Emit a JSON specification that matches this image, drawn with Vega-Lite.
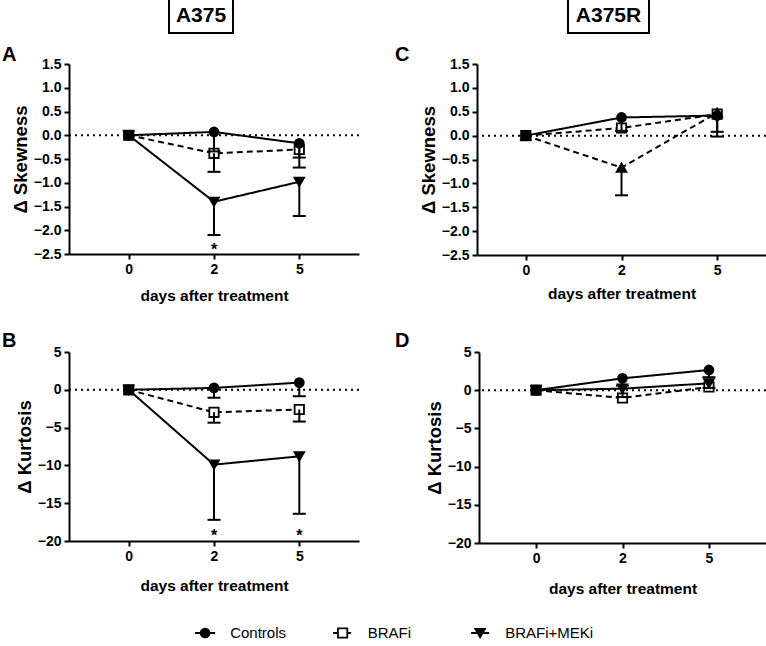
{
  "$schema": "https://vega.github.io/schema/vega-lite/v6.json",
  "background": "white",
  "padding": {"left": 2, "top": -3, "right": 0, "bottom": 0},
  "autosize": {"type": "pad"},
  "spacing": 0,
  "resolve": {"scale": {"shape": "independent", "strokeDash": "independent", "fill": "independent", "size": "independent"}},
  "datasets": {
    "main": [
      {"panel": "A", "series": "BRAFi", "day": "0", "value": 0},
      {"panel": "A", "series": "BRAFi", "day": "2", "value": -0.38, "lo": -0.77},
      {"panel": "A", "series": "BRAFi", "day": "5", "value": -0.3, "lo": -0.68},
      {"panel": "A", "series": "Controls", "day": "0", "value": 0},
      {"panel": "A", "series": "Controls", "day": "2", "value": 0.07, "lo": -0.34},
      {"panel": "A", "series": "Controls", "day": "5", "value": -0.17, "lo": -0.47},
      {"panel": "A", "series": "BRAFi+MEKi", "day": "0", "value": 0},
      {"panel": "A", "series": "BRAFi+MEKi", "day": "2", "value": -1.4, "lo": -2.1},
      {"panel": "A", "series": "BRAFi+MEKi", "day": "5", "value": -0.98, "lo": -1.7},
      {"panel": "B", "series": "BRAFi", "day": "0", "value": 0},
      {"panel": "B", "series": "BRAFi", "day": "2", "value": -2.98, "lo": -4.35},
      {"panel": "B", "series": "BRAFi", "day": "5", "value": -2.6, "lo": -4.2},
      {"panel": "B", "series": "Controls", "day": "0", "value": 0},
      {"panel": "B", "series": "Controls", "day": "2", "value": 0.25, "lo": -1.05},
      {"panel": "B", "series": "Controls", "day": "5", "value": 0.95, "lo": -0.85},
      {"panel": "B", "series": "BRAFi+MEKi", "day": "0", "value": 0},
      {"panel": "B", "series": "BRAFi+MEKi", "day": "2", "value": -9.9, "lo": -17.2},
      {"panel": "B", "series": "BRAFi+MEKi", "day": "5", "value": -8.8, "lo": -16.4},
      {"panel": "C", "series": "BRAFi", "day": "0", "value": 0},
      {"panel": "C", "series": "BRAFi", "day": "2", "value": 0.16},
      {"panel": "C", "series": "BRAFi", "day": "5", "value": 0.45, "lo": -0.02},
      {"panel": "C", "series": "Controls", "day": "0", "value": 0},
      {"panel": "C", "series": "Controls", "day": "2", "value": 0.38, "lo": 0.1},
      {"panel": "C", "series": "Controls", "day": "5", "value": 0.42, "lo": 0.08},
      {"panel": "C", "series": "BRAFi+MEKi", "day": "0", "value": 0},
      {"panel": "C", "series": "BRAFi+MEKi", "day": "2", "value": -0.67, "lo": -1.25},
      {"panel": "C", "series": "BRAFi+MEKi", "day": "5", "value": 0.48},
      {"panel": "D", "series": "BRAFi", "day": "0", "value": 0},
      {"panel": "D", "series": "BRAFi", "day": "2", "value": -1.02},
      {"panel": "D", "series": "BRAFi", "day": "5", "value": 0.42},
      {"panel": "D", "series": "Controls", "day": "0", "value": 0},
      {"panel": "D", "series": "Controls", "day": "2", "value": 1.55, "lo": 0.6},
      {"panel": "D", "series": "Controls", "day": "5", "value": 2.65, "lo": 1.7},
      {"panel": "D", "series": "BRAFi+MEKi", "day": "0", "value": 0},
      {"panel": "D", "series": "BRAFi+MEKi", "day": "2", "value": 0.2, "lo": -0.9},
      {"panel": "D", "series": "BRAFi+MEKi", "day": "5", "value": 0.9, "lo": 0.3}
    ],
    "stars": [
      {"panel": "A", "day": "2", "value": -2.33},
      {"panel": "B", "day": "2", "value": -18.85},
      {"panel": "B", "day": "5", "value": -18.85}
    ],
    "legend": [
      {"series": "Controls"},
      {"series": "BRAFi"},
      {"series": "BRAFi+MEKi"}
    ]
  },
  "vconcat": [
    {
      "spacing": 0,
      "hconcat": [
        {"width": 99, "height": 37, "data": {"values": [{"label": ""}]}, "mark": {"type": "text", "fontSize": 1}, "encoding": {"text": {"field": "label"}}},
        {"width": 64, "height": 35, "view": {"stroke": "black", "strokeWidth": 2}, "data": {"values": [{"label": "A375"}]}, "mark": {"type": "text", "fontSize": 21, "fontWeight": "bold", "baseline": "middle", "align": "center"}, "encoding": {"text": {"field": "label"}}},
        {"width": 333, "height": 37, "data": {"values": [{"label": ""}]}, "mark": {"type": "text", "fontSize": 1}, "encoding": {"text": {"field": "label"}}},
        {"width": 81, "height": 35, "view": {"stroke": "black", "strokeWidth": 2}, "data": {"values": [{"label": "A375R"}]}, "mark": {"type": "text", "fontSize": 21, "fontWeight": "bold", "baseline": "middle", "align": "center"}, "encoding": {"text": {"field": "label"}}}
      ]
    },
    {"width": 10, "height": 9, "data": {"values": [{"label": ""}]}, "mark": {"type": "text", "fontSize": 1}, "encoding": {"text": {"field": "label"}}},
    {
      "spacing": 35,
      "resolve": {"scale": {"shape": "independent", "strokeDash": "independent", "fill": "independent", "size": "independent"}},
      "hconcat": [
        {
          "width": 290, "height": 190,
          "title": {"text": "A", "dx": -67, "dy": 11.5},
          "layer": [
            {"data": {"values": [{"value": 0}]}, "mark": {"type": "rule", "color": "black", "strokeWidth": 2, "strokeDash": [2, 4]},
             "encoding": {"y": {"field": "value", "type": "quantitative", "scale": {"domain": [-2.5, 1.5], "nice": false, "zero": false}, "axis": {"title": "Δ Skewness", "values": [-2.5, -2, -1.5, -1, -0.5, 0, 0.5, 1, 1.5], "format": ".1f"}}}},
            {"data": {"name": "main"}, "transform": [{"filter": "datum.panel === 'A'"}], "mark": {"type": "line", "color": "black", "strokeWidth": 2},
             "encoding": {
               "x": {"field": "day", "type": "ordinal", "scale": {"type": "point", "domain": ["0", "2", "5"], "padding": 0.7}, "axis": {"title": "days after treatment", "titlePadding": 12}},
               "y": {"field": "value", "type": "quantitative", "scale": {"domain": [-2.5, 1.5], "nice": false, "zero": false}, "axis": {"title": "Δ Skewness", "values": [-2.5, -2, -1.5, -1, -0.5, 0, 0.5, 1, 1.5], "format": ".1f"}},
               "detail": {"field": "series"},
               "strokeDash": {"field": "series", "type": "nominal", "scale": {"domain": ["Controls", "BRAFi", "BRAFi+MEKi"], "range": [[1, 0], [6, 4], [1, 0]]}, "legend": null}
             }},
            {"data": {"name": "main"}, "transform": [{"filter": "datum.panel === 'A'"}], "mark": {"type": "point", "opacity": 1, "stroke": "black", "strokeWidth": 1.8},
             "encoding": {
               "x": {"field": "day", "type": "ordinal", "scale": {"type": "point", "domain": ["0", "2", "5"], "padding": 0.7}, "axis": {"title": "days after treatment", "titlePadding": 12}},
               "y": {"field": "value", "type": "quantitative", "axis": {"title": "Δ Skewness", "values": [-2.5, -2, -1.5, -1, -0.5, 0, 0.5, 1, 1.5], "format": ".1f"}},
               "shape": {"field": "series", "type": "nominal", "scale": {"domain": ["Controls", "BRAFi", "BRAFi+MEKi"], "range": ["circle", "square", "triangle-down"]}, "legend": null},
               "fill": {"field": "series", "type": "nominal", "scale": {"domain": ["Controls", "BRAFi", "BRAFi+MEKi"], "range": ["black", "white", "black"]}, "legend": null},
               "size": {"field": "series", "type": "nominal", "scale": {"domain": ["Controls", "BRAFi", "BRAFi+MEKi"], "range": [80, 95, 110]}, "legend": null}
             }},
            {"data": {"name": "main"}, "transform": [{"filter": "datum.panel === 'A' && isValid(datum.lo)"}], "mark": {"type": "rule", "color": "black", "strokeWidth": 2},
             "encoding": {
               "x": {"field": "day", "type": "ordinal", "scale": {"type": "point", "domain": ["0", "2", "5"], "padding": 0.7}, "axis": {"title": "days after treatment", "titlePadding": 12}},
               "y": {"field": "value", "type": "quantitative", "axis": {"title": "Δ Skewness", "values": [-2.5, -2, -1.5, -1, -0.5, 0, 0.5, 1, 1.5], "format": ".1f"}},
               "y2": {"field": "lo"}
             }},
            {"data": {"name": "main"}, "transform": [{"filter": "datum.panel === 'A' && isValid(datum.lo)"}], "mark": {"type": "tick", "color": "black", "thickness": 2, "size": 13, "opacity": 1},
             "encoding": {
               "x": {"field": "day", "type": "ordinal", "scale": {"type": "point", "domain": ["0", "2", "5"], "padding": 0.7}, "axis": {"title": "days after treatment", "titlePadding": 12}},
               "y": {"field": "lo", "type": "quantitative", "axis": {"title": "Δ Skewness", "values": [-2.5, -2, -1.5, -1, -0.5, 0, 0.5, 1, 1.5], "format": ".1f"}}
             }},
            {"data": {"name": "stars"}, "transform": [{"filter": "datum.panel === 'A'"}], "mark": {"type": "text", "text": "*", "fontSize": 16, "fontWeight": "bold", "baseline": "middle", "dy": 4},
             "encoding": {
               "x": {"field": "day", "type": "ordinal", "scale": {"type": "point", "domain": ["0", "2", "5"], "padding": 0.7}, "axis": {"title": "days after treatment", "titlePadding": 12}},
               "y": {"field": "value", "type": "quantitative", "axis": {"title": "Δ Skewness", "values": [-2.5, -2, -1.5, -1, -0.5, 0, 0.5, 1, 1.5], "format": ".1f"}}
             }}
          ]
        },
        {
          "width": 289, "height": 191,
          "title": {"text": "C", "dx": -82, "dy": 11.5},
          "layer": [
            {"data": {"values": [{"value": 0}]}, "mark": {"type": "rule", "color": "black", "strokeWidth": 2, "strokeDash": [2, 4]},
             "encoding": {"y": {"field": "value", "type": "quantitative", "scale": {"domain": [-2.5, 1.5], "nice": false, "zero": false}, "axis": {"title": "Δ Skewness", "values": [-2.5, -2, -1.5, -1, -0.5, 0, 0.5, 1, 1.5], "format": ".1f"}}}},
            {"data": {"name": "main"}, "transform": [{"filter": "datum.panel === 'C'"}], "mark": {"type": "line", "color": "black", "strokeWidth": 2},
             "encoding": {
               "x": {"field": "day", "type": "ordinal", "scale": {"type": "point", "domain": ["0", "2", "5"], "padding": 0.51}, "axis": {"title": "days after treatment", "titlePadding": 9}},
               "y": {"field": "value", "type": "quantitative", "scale": {"domain": [-2.5, 1.5], "nice": false, "zero": false}, "axis": {"title": "Δ Skewness", "values": [-2.5, -2, -1.5, -1, -0.5, 0, 0.5, 1, 1.5], "format": ".1f"}},
               "detail": {"field": "series"},
               "strokeDash": {"field": "series", "type": "nominal", "scale": {"domain": ["Controls", "BRAFi", "BRAFi+MEKi"], "range": [[1, 0], [6, 4], [6, 4]]}, "legend": null}
             }},
            {"data": {"name": "main"}, "transform": [{"filter": "datum.panel === 'C'"}], "mark": {"type": "point", "opacity": 1, "stroke": "black", "strokeWidth": 1.8},
             "encoding": {
               "x": {"field": "day", "type": "ordinal", "scale": {"type": "point", "domain": ["0", "2", "5"], "padding": 0.51}, "axis": {"title": "days after treatment", "titlePadding": 9}},
               "y": {"field": "value", "type": "quantitative", "axis": {"title": "Δ Skewness", "values": [-2.5, -2, -1.5, -1, -0.5, 0, 0.5, 1, 1.5], "format": ".1f"}},
               "shape": {"field": "series", "type": "nominal", "scale": {"domain": ["Controls", "BRAFi", "BRAFi+MEKi"], "range": ["circle", "square", "triangle-up"]}, "legend": null},
               "fill": {"field": "series", "type": "nominal", "scale": {"domain": ["Controls", "BRAFi", "BRAFi+MEKi"], "range": ["black", "white", "black"]}, "legend": null},
               "size": {"field": "series", "type": "nominal", "scale": {"domain": ["Controls", "BRAFi", "BRAFi+MEKi"], "range": [80, 95, 110]}, "legend": null}
             }},
            {"data": {"name": "main"}, "transform": [{"filter": "datum.panel === 'C' && isValid(datum.lo)"}], "mark": {"type": "rule", "color": "black", "strokeWidth": 2},
             "encoding": {
               "x": {"field": "day", "type": "ordinal", "scale": {"type": "point", "domain": ["0", "2", "5"], "padding": 0.51}, "axis": {"title": "days after treatment", "titlePadding": 9}},
               "y": {"field": "value", "type": "quantitative", "axis": {"title": "Δ Skewness", "values": [-2.5, -2, -1.5, -1, -0.5, 0, 0.5, 1, 1.5], "format": ".1f"}},
               "y2": {"field": "lo"}
             }},
            {"data": {"name": "main"}, "transform": [{"filter": "datum.panel === 'C' && isValid(datum.lo)"}], "mark": {"type": "tick", "color": "black", "thickness": 2, "size": 13, "opacity": 1},
             "encoding": {
               "x": {"field": "day", "type": "ordinal", "scale": {"type": "point", "domain": ["0", "2", "5"], "padding": 0.51}, "axis": {"title": "days after treatment", "titlePadding": 9}},
               "y": {"field": "lo", "type": "quantitative", "axis": {"title": "Δ Skewness", "values": [-2.5, -2, -1.5, -1, -0.5, 0, 0.5, 1, 1.5], "format": ".1f"}}
             }}
          ]
        }
      ]
    },
    {"width": 10, "height": 26, "data": {"values": [{"label": ""}]}, "mark": {"type": "text", "fontSize": 1}, "encoding": {"text": {"field": "label"}}},
    {
      "spacing": 35,
      "resolve": {"scale": {"shape": "independent", "strokeDash": "independent", "fill": "independent", "size": "independent"}},
      "hconcat": [
        {
          "width": 290, "height": 189,
          "title": {"text": "B", "dx": -67, "dy": 9.5},
          "layer": [
            {"data": {"values": [{"value": 0}]}, "mark": {"type": "rule", "color": "black", "strokeWidth": 2, "strokeDash": [2, 4]},
             "encoding": {"y": {"field": "value", "type": "quantitative", "scale": {"domain": [-20, 5], "nice": false, "zero": false}, "axis": {"title": "Δ Kurtosis", "values": [-20, -15, -10, -5, 0, 5]}}}},
            {"data": {"name": "main"}, "transform": [{"filter": "datum.panel === 'B'"}], "mark": {"type": "line", "color": "black", "strokeWidth": 2},
             "encoding": {
               "x": {"field": "day", "type": "ordinal", "scale": {"type": "point", "domain": ["0", "2", "5"], "padding": 0.7}, "axis": {"title": "days after treatment", "titlePadding": 15}},
               "y": {"field": "value", "type": "quantitative", "scale": {"domain": [-20, 5], "nice": false, "zero": false}, "axis": {"title": "Δ Kurtosis", "values": [-20, -15, -10, -5, 0, 5]}},
               "detail": {"field": "series"},
               "strokeDash": {"field": "series", "type": "nominal", "scale": {"domain": ["Controls", "BRAFi", "BRAFi+MEKi"], "range": [[1, 0], [6, 4], [1, 0]]}, "legend": null}
             }},
            {"data": {"name": "main"}, "transform": [{"filter": "datum.panel === 'B'"}], "mark": {"type": "point", "opacity": 1, "stroke": "black", "strokeWidth": 1.8},
             "encoding": {
               "x": {"field": "day", "type": "ordinal", "scale": {"type": "point", "domain": ["0", "2", "5"], "padding": 0.7}, "axis": {"title": "days after treatment", "titlePadding": 15}},
               "y": {"field": "value", "type": "quantitative", "axis": {"title": "Δ Kurtosis", "values": [-20, -15, -10, -5, 0, 5]}},
               "shape": {"field": "series", "type": "nominal", "scale": {"domain": ["Controls", "BRAFi", "BRAFi+MEKi"], "range": ["circle", "square", "triangle-down"]}, "legend": null},
               "fill": {"field": "series", "type": "nominal", "scale": {"domain": ["Controls", "BRAFi", "BRAFi+MEKi"], "range": ["black", "white", "black"]}, "legend": null},
               "size": {"field": "series", "type": "nominal", "scale": {"domain": ["Controls", "BRAFi", "BRAFi+MEKi"], "range": [80, 95, 110]}, "legend": null}
             }},
            {"data": {"name": "main"}, "transform": [{"filter": "datum.panel === 'B' && isValid(datum.lo)"}], "mark": {"type": "rule", "color": "black", "strokeWidth": 2},
             "encoding": {
               "x": {"field": "day", "type": "ordinal", "scale": {"type": "point", "domain": ["0", "2", "5"], "padding": 0.7}, "axis": {"title": "days after treatment", "titlePadding": 15}},
               "y": {"field": "value", "type": "quantitative", "axis": {"title": "Δ Kurtosis", "values": [-20, -15, -10, -5, 0, 5]}},
               "y2": {"field": "lo"}
             }},
            {"data": {"name": "main"}, "transform": [{"filter": "datum.panel === 'B' && isValid(datum.lo)"}], "mark": {"type": "tick", "color": "black", "thickness": 2, "size": 13, "opacity": 1},
             "encoding": {
               "x": {"field": "day", "type": "ordinal", "scale": {"type": "point", "domain": ["0", "2", "5"], "padding": 0.7}, "axis": {"title": "days after treatment", "titlePadding": 15}},
               "y": {"field": "lo", "type": "quantitative", "axis": {"title": "Δ Kurtosis", "values": [-20, -15, -10, -5, 0, 5]}}
             }},
            {"data": {"name": "stars"}, "transform": [{"filter": "datum.panel === 'B'"}], "mark": {"type": "text", "text": "*", "fontSize": 16, "fontWeight": "bold", "baseline": "middle", "dy": 4},
             "encoding": {
               "x": {"field": "day", "type": "ordinal", "scale": {"type": "point", "domain": ["0", "2", "5"], "padding": 0.7}, "axis": {"title": "days after treatment", "titlePadding": 15}},
               "y": {"field": "value", "type": "quantitative", "axis": {"title": "Δ Kurtosis", "values": [-20, -15, -10, -5, 0, 5]}}
             }}
          ]
        },
        {
          "width": 287, "height": 191,
          "title": {"text": "D", "dx": -84, "dy": 9.5},
          "layer": [
            {"data": {"values": [{"value": 0}]}, "mark": {"type": "rule", "color": "black", "strokeWidth": 2, "strokeDash": [2, 4]},
             "encoding": {"y": {"field": "value", "type": "quantitative", "scale": {"domain": [-20, 5], "nice": false, "zero": false}, "axis": {"title": "Δ Kurtosis", "values": [-20, -15, -10, -5, 0, 5]}}}},
            {"data": {"name": "main"}, "transform": [{"filter": "datum.panel === 'D'"}], "mark": {"type": "line", "color": "black", "strokeWidth": 2},
             "encoding": {
               "x": {"field": "day", "type": "ordinal", "scale": {"type": "point", "domain": ["0", "2", "5"], "padding": 0.66}, "axis": {"title": "days after treatment", "titlePadding": 16}},
               "y": {"field": "value", "type": "quantitative", "scale": {"domain": [-20, 5], "nice": false, "zero": false}, "axis": {"title": "Δ Kurtosis", "values": [-20, -15, -10, -5, 0, 5]}},
               "detail": {"field": "series"},
               "strokeDash": {"field": "series", "type": "nominal", "scale": {"domain": ["Controls", "BRAFi", "BRAFi+MEKi"], "range": [[1, 0], [6, 4], [1, 0]]}, "legend": null}
             }},
            {"data": {"name": "main"}, "transform": [{"filter": "datum.panel === 'D'"}], "mark": {"type": "point", "opacity": 1, "stroke": "black", "strokeWidth": 1.8},
             "encoding": {
               "x": {"field": "day", "type": "ordinal", "scale": {"type": "point", "domain": ["0", "2", "5"], "padding": 0.66}, "axis": {"title": "days after treatment", "titlePadding": 16}},
               "y": {"field": "value", "type": "quantitative", "axis": {"title": "Δ Kurtosis", "values": [-20, -15, -10, -5, 0, 5]}},
               "shape": {"field": "series", "type": "nominal", "scale": {"domain": ["Controls", "BRAFi", "BRAFi+MEKi"], "range": ["circle", "square", "triangle-down"]}, "legend": null},
               "fill": {"field": "series", "type": "nominal", "scale": {"domain": ["Controls", "BRAFi", "BRAFi+MEKi"], "range": ["black", "white", "black"]}, "legend": null},
               "size": {"field": "series", "type": "nominal", "scale": {"domain": ["Controls", "BRAFi", "BRAFi+MEKi"], "range": [80, 95, 110]}, "legend": null}
             }},
            {"data": {"name": "main"}, "transform": [{"filter": "datum.panel === 'D' && isValid(datum.lo)"}], "mark": {"type": "rule", "color": "black", "strokeWidth": 2},
             "encoding": {
               "x": {"field": "day", "type": "ordinal", "scale": {"type": "point", "domain": ["0", "2", "5"], "padding": 0.66}, "axis": {"title": "days after treatment", "titlePadding": 16}},
               "y": {"field": "value", "type": "quantitative", "axis": {"title": "Δ Kurtosis", "values": [-20, -15, -10, -5, 0, 5]}},
               "y2": {"field": "lo"}
             }},
            {"data": {"name": "main"}, "transform": [{"filter": "datum.panel === 'D' && isValid(datum.lo)"}], "mark": {"type": "tick", "color": "black", "thickness": 2, "size": 13, "opacity": 1},
             "encoding": {
               "x": {"field": "day", "type": "ordinal", "scale": {"type": "point", "domain": ["0", "2", "5"], "padding": 0.66}, "axis": {"title": "days after treatment", "titlePadding": 16}},
               "y": {"field": "lo", "type": "quantitative", "axis": {"title": "Δ Kurtosis", "values": [-20, -15, -10, -5, 0, 5]}}
             }}
          ]
        }
      ]
    },
    {"width": 10, "height": 26, "data": {"values": [{"label": ""}]}, "mark": {"type": "text", "fontSize": 1}, "encoding": {"text": {"field": "label"}}},
    {
      "width": 550, "height": 20,
      "data": {"name": "legend"},
      "resolve": {"scale": {"shape": "independent", "strokeDash": "independent", "fill": "independent", "size": "independent"}},
      "layer": [
        {"mark": {"type": "point", "shape": "M-1,0H1", "filled": false, "stroke": "black", "strokeWidth": 2, "opacity": 1},
         "encoding": {
           "x": {"field": "series", "type": "nominal", "scale": {"type": "point", "domain": ["Controls", "BRAFi", "BRAFi+MEKi"], "padding": 1, "align": 0.495}, "axis": null},
           "size": {"field": "series", "type": "nominal", "scale": {"domain": ["Controls", "BRAFi", "BRAFi+MEKi"], "range": [400, 324, 484]}, "legend": null},
           "strokeDash": {"field": "series", "type": "nominal", "scale": {"domain": ["Controls", "BRAFi", "BRAFi+MEKi"], "range": [[1, 0], [4, 3], [1, 0]]}, "legend": null}
         }},
        {"mark": {"type": "point", "opacity": 1, "stroke": "black", "strokeWidth": 1.8},
         "encoding": {
           "x": {"field": "series", "type": "nominal", "scale": {"type": "point", "domain": ["Controls", "BRAFi", "BRAFi+MEKi"], "padding": 1, "align": 0.495}, "axis": null},
           "shape": {"field": "series", "type": "nominal", "scale": {"domain": ["Controls", "BRAFi", "BRAFi+MEKi"], "range": ["circle", "square", "triangle-down"]}, "legend": null},
           "fill": {"field": "series", "type": "nominal", "scale": {"domain": ["Controls", "BRAFi", "BRAFi+MEKi"], "range": ["black", "white", "black"]}, "legend": null},
           "size": {"field": "series", "type": "nominal", "scale": {"domain": ["Controls", "BRAFi", "BRAFi+MEKi"], "range": [80, 95, 110]}, "legend": null}
         }},
        {"mark": {"type": "text", "align": "left", "baseline": "middle", "dx": 25, "fontSize": 15, "fontWeight": "normal", "color": "black"},
         "encoding": {
           "x": {"field": "series", "type": "nominal", "scale": {"type": "point", "domain": ["Controls", "BRAFi", "BRAFi+MEKi"], "padding": 1, "align": 0.495}, "axis": null},
           "text": {"field": "series"}
         }}
      ]
    }
  ],
  "config": {
    "view": {"stroke": null},
    "font": "Liberation Sans",
    "text": {"font": "Liberation Sans", "color": "black"},
    "point": {"size": 90},
    "axis": {
      "domainColor": "black", "domainWidth": 2, "tickColor": "black", "tickWidth": 2, "tickSize": 5,
      "labelFont": "Liberation Sans", "labelFontWeight": "bold", "labelFontSize": 14, "labelColor": "black", "labelPadding": 3,
      "titleFont": "Liberation Sans", "titleFontWeight": "bold", "titleColor": "black", "grid": false
    },
    "axisX": {"titleFontSize": 15.5, "labelAngle": 0},
    "axisY": {"titleFontSize": 18.5, "titlePadding": 3},
    "title": {"font": "Liberation Sans", "fontSize": 20, "fontWeight": "bold", "anchor": "start", "frame": "group", "baseline": "alphabetic", "offset": 0, "color": "black"}
  }
}
